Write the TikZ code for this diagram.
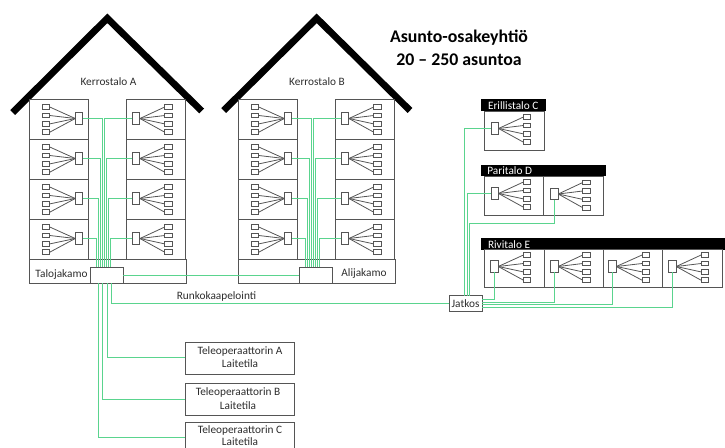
\documentclass[tikz,border=0pt]{standalone}
\usepackage{fontspec}
\setmainfont{Carlito}
\definecolor{fibre}{RGB}{90,212,142}
\definecolor{boxline}{RGB}{85,85,85}
\definecolor{ink}{RGB}{45,45,45}
\tikzset{
  box/.style={draw=boxline,line width=1pt,inner sep=0,outer sep=0,fill=white},
  wall/.style={draw=boxline,line width=1pt,inner sep=0,outer sep=0},
  hdr/.style={fill=black,draw=none,inner sep=0,outer sep=0},
  fan/.style={draw=boxline,line width=0.8pt},
  fibreline/.style={draw=fibre,line width=1.5pt},
  roof/.style={draw=black,line width=6.8pt,miter limit=10,line join=miter},
  lab/.style={inner sep=0,outer sep=0,text=ink,font=\fontsize{11.3}{13}\selectfont,align=center},
  hlab/.style={inner sep=0,outer sep=0,text=white,font=\fontsize{11.3}{13}\selectfont,anchor=west},
  ttl/.style={inner sep=0,outer sep=0,text=black,font=\fontsize{17.8}{21}\bfseries\selectfont}
}
% style, name, x1, y1, x2, y2, text
\newcommand\bx[7]{\node[#1,minimum width={((#5)-(#3))*1pt},minimum height={((#6)-(#4))*1pt}] (#2) at ({((#3)+(#5))/2},{((#4)+(#6))/2}) {#7};}
% id, main cx, main cy, small cx, main anchor, small anchor
\newcommand\unitset[6]{%
  \node[box,minimum width=7.5pt,minimum height=11.6pt] (#1) at ({#2},{#3}) {};
  \foreach \k/\d in {a/-11.5,b/-3,c/5.4,d/13.7}{
    \node[box,minimum width=7.5pt,minimum height=4.7pt] (#1\k) at ({#4},{#3+\d}) {};
    \draw[fan] (#1.#5) -- (#1\k.#6);
  }%
}
\begin{document}
\begin{tikzpicture}[x=1pt,y=-1pt]
\useasboundingbox (0,0) rectangle (725,447);
\clip (0,0) rectangle (725,447);
% roofs
\coordinate (ral) at (12.7,112.5); \coordinate (raa) at (107.3,18.3); \coordinate (rar) at (201.7,111);
\draw[roof] (ral) -- (raa) -- (rar);
\coordinate (rbl) at (223.7,110.5); \coordinate (rba) at (316.7,18.3); \coordinate (rbr) at (410,110.5);
\draw[roof] (rbl) -- (rba) -- (rbr);
\node[lab] (lka) at (108.5,82) {Kerrostalo A};
\node[lab] (lkb) at (317,82) {Kerrostalo B};
\node[ttl] (t1) at (459,37.5) {Asunto-osakeyhtiö};
\node[ttl] (t2) at (459,59.3) {20 – 250 asuntoa};
% building A and B cells
\foreach \h/\o in {A/0,B/209}{
  \foreach \r/\t in {1/99.3,2/139.3,3/179.3,4/219.3}{
    \bx{wall}{c\h L\r}{29.5+\o}{\t}{88.5+\o}{\t+40}{}
    \bx{wall}{c\h R\r}{126+\o}{\t}{185+\o}{\t+40}{}
    \unitset{\h L\r}{79+\o}{\t+19.2}{46+\o}{west}{east}
    \unitset{\h R\r}{136.2+\o}{\t+19.2}{168.5+\o}{east}{west}
  }
  \bx{wall}{base\h}{29.5+\o}{259.3}{186+\o}{283.3}{}
}
% green risers
\foreach \h/\o in {A/0,B/209}{
  \foreach \r/\x in {1/102.5,2/100.5,3/98.5,4/96.5}{
    \coordinate (s\h L\r) at ({\x+\o},267.5);
    \draw[fibreline] (\h L\r.east) -| (s\h L\r);
  }
  \foreach \r/\x in {1/104.5,2/106.5,3/108.5,4/110.5}{
    \coordinate (s\h R\r) at ({\x+\o},267.5);
    \draw[fibreline] (\h R\r.west) -| (s\h R\r);
  }
}
\bx{box}{talo}{90.7}{267.3}{123.3}{283.3}{}
\bx{box}{ali}{299.3}{267.3}{332.3}{283.3}{}
\node[lab] (ltalo) at (61.5,274.5) {Talojakamo};
\node[lab] (lali) at (364,273.5) {Alijakamo};
\draw[fibreline] (talo.east |- 0,275.5) -- (ali.west |- 0,275.5);
% operator rooms
\bx{box}{opa}{185}{342}{294}{374}{}
\bx{box}{opb}{185}{383.5}{294}{415.7}{}
\bx{box}{opc}{185}{422.3}{294}{456}{}
\node[lab] (lopa) at (240,358.4) {\begin{tabular}{@{}c@{}}Teleoperaattorin A\\[0.4pt]Laitetila\end{tabular}};
\node[lab] (lopb) at (238,400) {\begin{tabular}{@{}c@{}}Teleoperaattorin B\\[0.4pt]Laitetila\end{tabular}};
\node[lab] (lopc) at (240,436.8) {\begin{tabular}{@{}c@{}}Teleoperaattorin C\\[-1.5pt]Laitetila\end{tabular}};
\coordinate (da) at (107.5,283.3); \coordinate (db) at (102.5,283.3); \coordinate (dc) at (98.5,283.3); \coordinate (dj) at (111.5,283.3);
\draw[fibreline] (da) |- (opa.west |- 0,357.5);
\draw[fibreline] (db) |- (opb.west |- 0,399.5);
\draw[fibreline] (dc) |- (opc.west |- 0,437.5);
% joint box
\bx{box}{jat}{449}{295.7}{482}{311.7}{}
\node[lab] (ljat) at (465.5,304) {Jatkos};
\draw[fibreline] (dj) |- (jat.west |- 0,303.5);
\node[lab] (lrunko) at (216.5,296) {Runkokaapelointi};
% Erillistalo C
\bx{hdr}{hc}{481.3}{99.3}{546.3}{111}{}
\bx{wall}{cc}{484.7}{111}{544.3}{150}{}
\node[hlab] (lc) at (488,105.5) {Erillistalo C};
\unitset{C}{494.8}{128.5}{527.2}{east}{west}
% Paritalo D
\bx{hdr}{hd}{481.3}{164.7}{606}{176.3}{}
\bx{wall}{cd1}{484.7}{176.3}{543.3}{215.3}{}
\bx{wall}{cd2}{543.3}{176.3}{603}{215.3}{}
\node[hlab] (ld) at (487.3,171) {Paritalo D};
\unitset{Da}{494.8}{193.5}{527.2}{east}{west}
\unitset{Db}{554.5}{194}{586.5}{east}{west}
% Rivitalo E
\bx{hdr}{he}{481.3}{238.3}{726}{249.7}{}
\foreach \n/\a/\b in {1/484.7/544.3,2/544.3/603,3/603/662,4/662/722}{
  \bx{wall}{ce\n}{\a}{249.7}{\b}{287.7}{}
}
\node[hlab] (le) at (488,245) {Rivitalo E};
\unitset{Ea}{494.5}{266.5}{527.2}{east}{west}
\unitset{Eb}{554.5}{266.5}{586.5}{east}{west}
\unitset{Ec}{612.5}{266.5}{645.8}{east}{west}
\unitset{Ed}{672.5}{266.5}{704.8}{east}{west}
% green to joint
\coordinate (jt1) at (464.5,295.7); \coordinate (jt2) at (467.5,295.7); \coordinate (jt3) at (469.5,295.7);
\draw[fibreline] (C.west) -| (jt1);
\draw[fibreline] (Da.west) -| (jt2);
\coordinate (dbend) at (554.5,223.5);
\draw[fibreline] (Db.south) -- (dbend) -| (jt3);
\draw[fibreline] (Ea.south) |- (jat.east |- 0,299.5);
\draw[fibreline] (Eb.south) |- (jat.east |- 0,302.5);
\draw[fibreline] (Ec.south) |- (jat.east |- 0,304.5);
\draw[fibreline] (Ed.south) |- (jat.east |- 0,307.5);
\end{tikzpicture}
\end{document}
